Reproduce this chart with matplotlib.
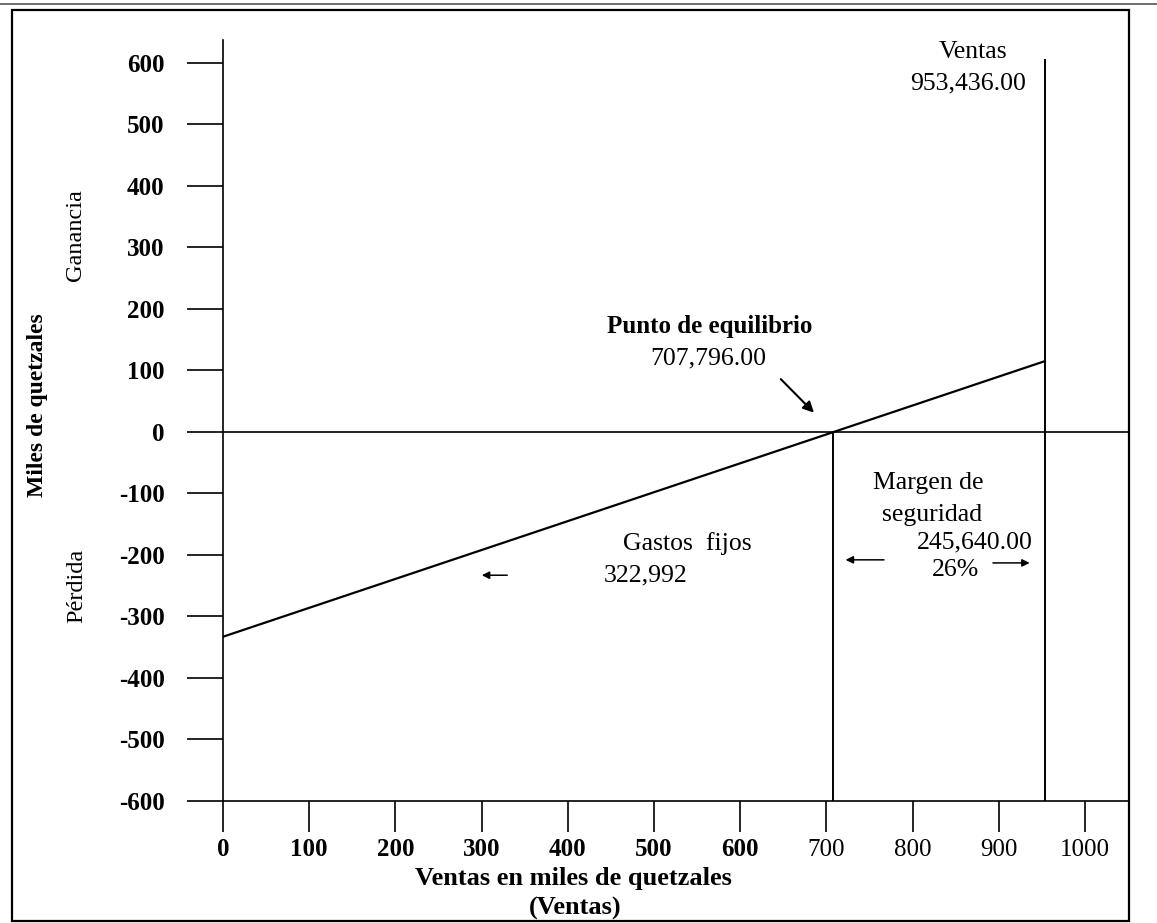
import matplotlib
matplotlib.use('Agg')
import matplotlib.pyplot as plt
from matplotlib.patches import Rectangle
from matplotlib.lines import Line2D

# datos del grafico (miles de quetzales)
sales = 953.436
breakeven = 707.796
fixed_costs = 322.992
sales_top = 605
line_x = [0, 953.436]
line_y = [-333, 115]
xticks = [0, 100, 200, 300, 400, 500, 600, 700, 800, 900, 1000]
yticks = [-600, -500, -400, -300, -200, -100, 0, 100, 200, 300, 400, 500, 600]
bold_xticks = [0, 100, 200, 300, 400, 500, 600]

W, H = 1157, 923

def fx(px):
  return px / W

def fy(py):
  return 1 - py / H

def run():
  plt.rcParams['font.family'] = ['Liberation Serif', 'DejaVu Serif']
  fig = plt.figure(figsize=(W / 100, H / 100), dpi=100)
  ax = fig.add_axes([fx(223), fy(801), fx(1129) - fx(223), fy(40) - fy(801)])
  ax.set_xlim(0, 1051)
  ax.set_ylim(-600, 637)

  for s in ['top', 'right']:
    ax.spines[s].set_visible(False)
  for s in ['left', 'bottom']:
    ax.spines[s].set_linewidth(1.2)

  ax.set_xticks(xticks)
  ax.set_xticklabels([str(t) for t in xticks])
  ax.set_yticks(yticks)
  ax.set_yticklabels([str(t) for t in yticks])
  ax.tick_params(axis='y', direction='out', length=26, width=1.2, pad=16,
                 labelsize=18)
  ax.tick_params(axis='x', direction='out', length=22, width=1.2, pad=5,
                 labelsize=18)
  for lab in ax.get_yticklabels():
    lab.set_fontweight('bold')
  for t, lab in zip(xticks, ax.get_xticklabels()):
    if t in bold_xticks:
      lab.set_fontweight('bold')

  # lineas
  ax.axhline(0, color='black', lw=1.2)
  ax.plot(line_x, line_y, color='black', lw=1.6)
  ax.plot([breakeven, breakeven], [-600, 0], color='black', lw=1.4)
  ax.plot([sales, sales], [-600, sales_top], color='black', lw=1.4)

  # textos
  fs = 18.5
  ax.text(870, 618, 'Ventas', ha='center', va='center', fontsize=fs)
  ax.text(864, 567, '953,436.00', ha='center', va='center', fontsize=fs)
  ax.text(565, 171, 'Punto de equilibrio', ha='center', va='center',
          fontsize=18, fontweight='bold')
  ax.text(563, 120, '707,796.00', ha='center', va='center', fontsize=fs)
  ax.annotate('', xy=(breakeven - 20, 28), xytext=(breakeven - 63, 89),
              arrowprops=dict(arrowstyle='-|>', color='black', lw=1.5,
                              mutation_scale=16))
  ax.text(818, -83, 'Margen de', ha='center', va='center', fontsize=fs)
  ax.text(822, -135, 'seguridad', ha='center', va='center', fontsize=fs)
  ax.text(872, -179, '245,640.00', ha='center', va='center', fontsize=fs)
  ax.text(850, -224, '26%', ha='center', va='center', fontsize=fs)
  ax.text(539, -182, 'Gastos  fijos', ha='center', va='center', fontsize=fs)
  ax.text(490, -233, '322,992', ha='center', va='center', fontsize=fs)
  arrow = dict(arrowstyle='-|>', color='black', lw=1.1, mutation_scale=11)
  ax.annotate('', xy=(297, -233), xytext=(333, -233), arrowprops=arrow)
  ax.annotate('', xy=(719, -208), xytext=(770, -208), arrowprops=arrow)
  ax.annotate('', xy=(939, -213), xytext=(890, -213), arrowprops=arrow)

  # rotulos de ejes
  fig.text(fx(38), fy(405), 'Miles de quetzales', rotation=90, ha='center',
           va='center', fontsize=17, fontweight='bold')
  fig.text(fx(75), fy(235), 'Ganancia', rotation=90, ha='center', va='center',
           fontsize=17.5)
  fig.text(fx(77), fy(586), 'Pérdida', rotation=90, ha='center', va='center',
           fontsize=17.5)
  fig.text(fx(573), fy(878), 'Ventas en miles de quetzales', ha='center',
           va='center', fontsize=19, fontweight='bold')
  fig.text(fx(575), fy(908), '(Ventas)', ha='center', va='center',
           fontsize=19, fontweight='bold')

  # marco
  fig.add_artist(Rectangle((fx(12), fy(921)), fx(1129) - fx(12),
                           fy(10) - fy(921), transform=fig.transFigure,
                           fill=False, edgecolor='black', lw=1.6))
  fig.add_artist(Line2D([0, 1], [fy(4), fy(4)], transform=fig.transFigure,
                        color='#555555', lw=1.2))

  fig.savefig('out.png', dpi=100)

if __name__ == '__main__':
  run()
